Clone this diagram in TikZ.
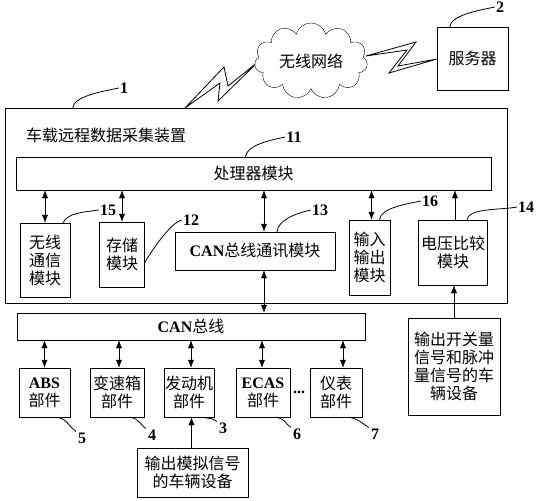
\documentclass[tikz,border=0pt]{standalone}
\usepackage{fontspec}
\setmainfont{Liberation Serif}
\newfontfamily\cjk{Noto Sans CJK SC}
\usetikzlibrary{arrows.meta,shapes.symbols}
\newcommand\lat[1]{{\rmfamily\bfseries #1}}
\tikzset{
x=1pt, y=-1pt,
>={Latex[length=8pt,width=6pt]},
line width=0.9pt,
box/.style={draw, inner sep=1pt, align=center, font=\cjk\fontsize{16}{18}\selectfont},
num/.style={inner sep=1pt, font=\bfseries\fontsize{16}{18}\selectfont},
leader/.style={line width=0.8pt},
bolt/.style={line width=0.8pt, fill=white, line join=miter},
}
\begin{document}
\begin{tikzpicture}
    \useasboundingbox (0,0) rectangle (540,500);
    \node[box, minimum width=502pt, minimum height=195pt] (dev) at (256,205.5) {};
    \node[anchor=west, inner sep=0pt, font=\cjk\fontsize{16}{18}\selectfont] (title) at (26,135) {车载远程数据采集装置};
    \node[box, minimum width=475pt, minimum height=33pt] (cpu) at (253.5,173.5) {处理器模块};
    \node[box, minimum width=50pt, minimum height=74pt] (wl) at (45,260) {无线\\通信\\模块};
    \node[box, minimum width=45pt, minimum height=65pt] (mem) at (122,254.5) {存储\\模块};
    \node[box, minimum width=160pt, minimum height=38pt] (canm) at (255,251) {\lat{CAN}总线通讯模块};
    \node[box, minimum width=41pt, minimum height=75pt] (io) at (369.5,257.5) {输入\\输出\\模块};
    \node[box, minimum width=69pt, minimum height=65pt] (vc) at (453,252.5) {电压比较\\模块};

    \node[box, minimum width=348pt, minimum height=27pt] (bus) at (191,326.5) {\lat{CAN}总线};
    \node[box, minimum width=51pt, minimum height=49pt] (abs) at (44.5,392.5) {\lat{ABS}\\部件};
    \node[box, minimum width=54pt, minimum height=49pt] (gear) at (117,392.5) {变速箱\\部件};
    \node[box, minimum width=50pt, minimum height=49pt] (eng) at (189,392.5) {发动机\\部件};
    \node[box, minimum width=54pt, minimum height=49pt] (ecas) at (263,392.5) {\lat{ECAS}\\部件};
    \node[font=\bfseries\fontsize{16}{18}\selectfont] (dots) at (299,392) {...};
    \node[box, minimum width=52pt, minimum height=49pt] (meter) at (336,392.5) {仪表\\部件};
    \node[box, minimum width=111pt, minimum height=49pt] (ana) at (192.5,472.5) {输出模拟信号\\的车辆设备};
    \node[box, minimum width=92pt, minimum height=97pt] (sw) at (454,366.5) {输出开关量\\信号和脉冲\\量信号的车\\辆设备};

    \draw[bolt] (185,108) -- (224,67) -- (228,86) -- (258,62) -- (218,101) -- (220,83) -- cycle;
    \draw[bolt] (366,56) -- (416,42) -- (398,66) -- (437,59) -- (389,73) -- (407,50) -- cycle;
    \node[box, cloud, cloud puffs=11, aspect=1.6, fill=white, minimum width=113pt, minimum height=72pt] (net) at (311,61) {无线网络};
    \node[box, minimum width=71pt, minimum height=63pt] (srv) at (472.5,58.5) {服务器};

    \draw[<->] (wl.north) -- (wl.north |- cpu.south);
    \draw[<->] (mem.north) -- (mem.north |- cpu.south);
    \draw[<->] ([xshift=9pt]canm.north) -- ([xshift=9pt]canm.north |- cpu.south);
    \draw[<->] ([xshift=2pt]io.north) -- ([xshift=2pt]io.north |- cpu.south);
    \draw[->] ([xshift=2pt]vc.north) -- ([xshift=2pt]vc.north |- cpu.south);
    \draw[<->] ([xshift=9pt]canm.south) -- ([xshift=9pt]canm.south |- bus.north);
    \draw[->] (sw.north) -- (sw.north |- vc.south);
    \foreach \part/\dx in {abs/0,gear/2,eng/2,ecas/-1,meter/7}
        \draw[<->] ([xshift=\dx pt]\part.north) -- ([xshift=\dx pt]\part.north |- bus.south);
    \draw[->] ([xshift=-1pt]ana.north) -- ([xshift=-1pt]ana.north |- eng.south);

    \node[num] (l1) at (124,88) {1};
    \node[num] (l2) at (500,7) {2};
    \node[num] (l11) at (294,137) {11};
    \node[num] (l15) at (108,210) {15};
    \node[num] (l12) at (191,220) {12};
    \node[num] (l13) at (320,210) {13};
    \node[num] (l16) at (430,201) {16};
    \node[num] (l14) at (526,207) {14};
    \draw[leader] ([xshift=68pt]dev.north west) .. controls +(1,-12) and +(-14,3) .. (l1.west);
    \draw[leader] ([xshift=13pt]srv.north west) .. controls +(1,-12) and +(-14,3) .. (l2.west);
    \draw[leader] ([xshift=-8pt]cpu.north) .. controls +(1,-12) and +(-14,3) .. (l11.west);
    \draw[leader] ([xshift=-7pt]wl.north east) .. controls +(4,-10) and +(-14,2) .. (l15.west);
    \draw[leader] ([yshift=-8pt]mem.east) .. controls +(6,-10) and +(-12,3) .. (l12.west);
    \draw[leader] ([xshift=22pt]canm.north) .. controls +(1,-12) and +(-14,3) .. (l13.west);
    \draw[leader] ([xshift=10pt]io.north) .. controls +(1,-12) and +(-14,3) .. (l16.west);
    \draw[leader] ([xshift=14pt]vc.north) .. controls +(1,-12) and +(-14,3) .. (l14.west);

    \foreach \part/\n/\px/\py in {abs/5/82/438,gear/4/152/435,eng/3/223/428,ecas/6/297/434,meter/7/375/434} {
        \node[num] (l\n) at (\px,\py) {\n};
        \draw[leader] ([xshift=13pt]\part.south) .. controls +(10,2) and +(-6,-4) .. ([xshift=-1pt]l\n.north west);
    }
\end{tikzpicture}
\end{document}
